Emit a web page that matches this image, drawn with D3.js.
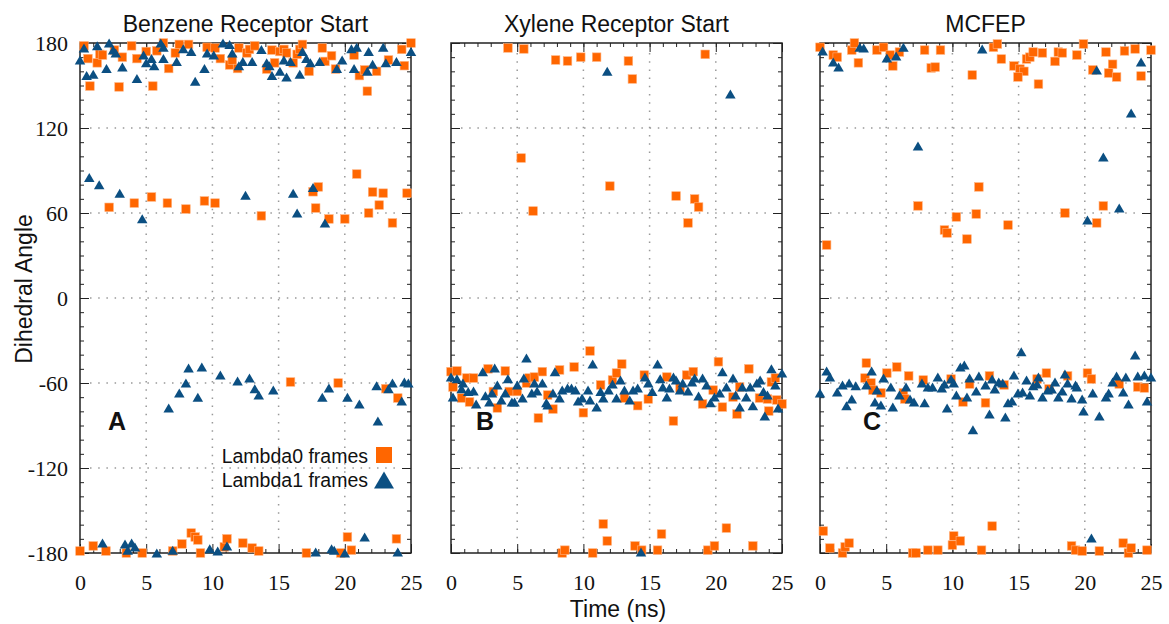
<!DOCTYPE html>
<html>
<head>
<meta charset="utf-8">
<script src="https://cdn.jsdelivr.net/npm/d3@7"></script>
<style>
  body { margin: 0; background: #fff; }
  svg text { font-family: "Liberation Sans", Arial, sans-serif; fill: #111; }
  .tick text { font-family: "Liberation Serif", "Times New Roman", serif; font-size: 22px; fill: #111; }
</style>
</head>
<body>
<svg id="chart" width="1169" height="624"></svg>
<script>
// ---- data (time in ns, dihedral angle in degrees) ----
var titles = ["Benzene Receptor Start", "Xylene Receptor Start", "MCFEP"];
var letters = ["A", "B", "C"];
var xTicks = [0, 5, 10, 15, 20, 25];
var yTicks = [-180, -120, -60, 0, 60, 120, 180];
var legendLabels = ["Lambda0 frames", "Lambda1 frames"];

var benzeneL0 = [
  [0.3,178],[0.6,169],[0.75,149.6],[1.3,166],[1.5,172],[1.7,171.5],[2.6,175],[2.95,149],[3.2,170],[3.9,178],
  [4.3,169],[5.0,174],[5.5,149.6],[5.8,174.5],[6.3,180],[6.7,162],[7.2,173],[7.5,179],[8.2,179],[9.6,177],
  [10.2,176.5],[10.6,169],[11.3,164.5],[11.5,168],[11.9,162],[12.0,176.5],[12.6,173],[12.8,175.5],[13.2,178],
  [14.1,161.6],[14.5,175],[14.7,166],[15.1,174],[15.4,175.5],[15.6,173],[16.1,166],[16.4,172],[16.6,175.5],
  [16.8,179],[17.3,160],[18.3,176.5],[18.5,167],[19.0,171],[19.3,161.6],[20.7,171.5],[21.1,157],[21.5,161],
  [21.7,146],[22.4,160],[23.3,168],[24.3,175.5],[24.5,164],[25,180],
  [2.2,64],[4.1,67],[5.4,71.3],[6.6,67],[8.0,62.8],[9.4,68.5],[10.2,67],[13.7,58],[17.6,75],[18.0,78.4],
  [17.8,63.5],[18.8,55.8],[20.0,55.8],[20.9,87.5],[21.8,60],[22.1,74.8],[22.6,65.6],[22.9,74],[23.6,53],[24.7,74],
  [15.9,-59.3],[19.5,-60],[23.1,-64],[24.0,-70.6],
  [0,-178.6],[1.0,-175],[1.96,-178.6],[3.5,-180],[4.7,-180],[7.0,-178.6],[7.7,-173.6],[8.4,-165.9],[8.7,-168.7],
  [8.9,-170.8],[9.1,-180],[10.9,-175.7],[11.1,-170],[12.3,-173],[13.0,-176.5],[13.5,-178.6],[17.1,-180],
  [19.7,-180],[20.2,-168.7],[20.5,-178],[23.9,-170]
];
var benzeneL1 = [
  [0,168],[0.3,176.5],[0.5,157],[1.0,158],[1.3,178],[2.0,162],[2.2,180],[2.5,175],[2.7,173],[3.2,163],
  [4.3,155],[4.8,171.5],[5.0,166],[5.4,169],[5.6,164],[6.1,180],[6.3,177],[6.3,169],[7.3,167],[7.8,176],
  [8.4,174],[8.7,153],[9.4,162],[9.6,173],[10.1,171.5],[10.8,180],[11.3,179],[11.5,173],[12.0,164],[12.3,167],
  [13.0,167],[13.7,175.5],[14.1,166],[14.3,164],[14.5,157],[15.1,160],[15.4,168],[15.6,156],[15.9,167],
  [16.6,158],[16.8,174],[17.1,169],[17.4,166],[18.1,167],[19.4,162],[19.8,168],[20.5,176],[20.9,177],
  [20.7,162],[21.7,160],[21.8,174],[22.1,165],[22.9,177],[23.1,166],[23.9,167],[25,174],
  [0.7,85],[1.45,80],[3.0,74],[4.7,56],[12.5,72.5],[16.1,74],[16.4,60],[17.6,78],[18.5,53],
  [6.7,-77.6],[7.5,-67],[8.0,-60],[8.2,-49.4],[8.9,-70],[9.2,-48.7],[10.6,-54.4],[11.9,-58.6],[12.8,-56.5],
  [13.2,-64],[13.5,-68.5],[14.6,-65],[18.3,-70],[18.8,-63.5],[20.2,-70],[21.1,-74.8],[22.4,-62],[22.5,-86.8],
  [23.3,-64],[23.6,-60],[24.3,-72.7],[24.5,-59.3],[24.8,-60],
  [1.7,-173],[3.4,-173.6],[3.6,-178],[3.9,-173],[4.15,-175.7],[5.8,-180],[7.0,-178],[9.8,-177],[10.4,-178.6],
  [11.1,-175],[17.8,-179.3],[19.0,-177],[19.2,-178],[20.0,-180],[21.5,-168.7],[24.0,-179.3]
];

var xyleneL0 = [
  [4.3,176.5],[5.5,175.8],[7.9,168],[8.8,167.3],[9.8,170],[11.0,170],[13.4,167.3],[13.7,154.6],[19.2,172],
  [5.3,98.8],[12.0,79],[17.0,72],[18.4,69.9],[18.7,64.2],[17.9,53],[6.2,61.4],
  [0,-52],[0.45,-51.5],[0.15,-62.8],[0.8,-70.6],[1.2,-56.5],[1.4,-73.4],[1.7,-56.5],[2.8,-50],[3.2,-66],
  [3.5,-77.6],[4.1,-51.5],[4.4,-66],[5.0,-66],[5.7,-60],[5.9,-56.5],[6.3,-55.8],[6.6,-84.7],[6.9,-52],
  [7.3,-68.5],[7.7,-78.4],[8.2,-50.8],[9.3,-48.7],[10.0,-81],[10.5,-37.4],[11.3,-61.4],[12.2,-57.9],[12.5,-53],
  [12.9,-46.6],[13.1,-70.6],[14.1,-76],[14.6,-54.4],[14.9,-71.3],[16.3,-55.8],[16.8,-86.8],[17.3,-63.5],
  [17.8,-54.4],[18.3,-52],[19.0,-74.8],[19.8,-65],[20.2,-45],[20.5,-77],[21.3,-69.9],[21.6,-81.9],[21.8,-62.8],
  [22.5,-50],[23.3,-70.6],[23.9,-71.3],[24.0,-79.8],[24.2,-59.3],[24.5,-56.5],[24.6,-72],[25.0,-74.8],
  [11.5,-159.5],[11.8,-171.5],[8.4,-180],[8.6,-178],[10.7,-180],[13.9,-175],[14.4,-178],[15.6,-178],
  [15.9,-166.6],[19.4,-178],[19.9,-175],[20.8,-162.4],[22.8,-175]
];
var xyleneL1 = [
  [11.8,160],[21.1,144],
  [0,-55.8],[0.15,-69.9],[0.45,-57],[0.8,-64],[0.9,-60],[1.3,-66],[1.7,-65.6],[1.9,-74.8],[2.4,-52],[2.6,-69],
  [2.9,-73.4],[3.1,-67],[3.3,-49.4],[3.5,-61.4],[3.8,-72],[4.1,-67],[4.3,-57],[4.6,-73.4],[4.8,-73.4],[5.0,-61.4],
  [5.4,-70.6],[5.5,-56.5],[5.7,-42.4],[6.1,-67],[6.3,-60],[6.5,-65.6],[6.9,-60],[7.2,-74],[7.3,-75.5],[7.7,-67],
  [7.85,-52],[8.2,-70.6],[8.4,-65],[8.8,-63.5],[9.1,-63.5],[9.4,-65],[9.6,-72.7],[9.9,-70.6],[10.35,-65],
  [10.5,-72],[10.7,-46.6],[11.0,-77],[11.3,-66],[11.5,-70.6],[11.9,-65],[12.2,-60.7],[12.5,-70.6],[12.8,-57.9],
  [13.1,-65],[13.5,-72],[13.75,-65],[14.1,-63.5],[14.65,-55.8],[14.9,-60],[15.2,-66],[15.6,-46.6],[15.8,-57],
  [16.0,-62.8],[16.3,-69.9],[16.5,-63.5],[16.8,-55.8],[17.0,-57.9],[17.3,-65],[17.5,-60],[17.9,-65.6],
  [18.2,-59.3],[18.4,-56.5],[18.7,-69.2],[19.0,-56.5],[19.3,-61.4],[19.6,-74],[19.9,-69.9],[20.3,-67],[20.5,-52],
  [20.8,-62.8],[21.3,-56.5],[21.5,-68.5],[21.8,-77],[22.0,-62.8],[22.3,-69.9],[22.6,-62.8],[22.8,-76],[23.1,-60],
  [23.35,-57.9],[23.6,-66],[23.7,-83.3],[23.9,-68.5],[24.2,-50],[24.5,-61.4],[24.7,-77.6],[25.0,-53],
  [14.35,-179.3]
];

var mcfepL0 = [
  [0,177],[1.0,171.5],[1.3,170],[2.4,175],[2.6,180],[2.9,166],[4.3,175],[4.8,177],[5.3,171.5],[5.5,163.8],
  [6.0,173.6],[7.9,175],[8.4,162.4],[8.7,163],[9.1,175],[11.5,157.4],[13.1,177],[13.4,179.3],[13.7,168.7],
  [14.65,163.8],[15.1,161.6],[15.4,160],[14.95,156],[15.6,168.7],[15.85,170],[16.1,173.6],[16.5,151],[16.8,173],
  [17.75,167],[18.0,173.6],[18.3,173],[19.4,171.5],[19.9,179.3],[20.6,161],[21.6,173.6],[21.8,158.8],[22.1,165],
  [22.4,156],[23.0,174.4],[23.8,175.8],[24.25,156.7],[25,175],
  [12.0,78.4],[0.5,37.4],[7.4,65],[9.4,48],[9.6,45.9],[10.3,57.2],[11.1,41.6],[11.8,59.3],[14.2,51.5],[18.5,60],
  [20.9,53],[21.4,65],
  [3.5,-45.9],[3.4,-56.5],[3.85,-60],[4.0,-65],[4.6,-67],[5.05,-53],[5.8,-48.7],[6.3,-67],[6.4,-71.3],[6.7,-55],
  [7.8,-57.9],[9.9,-57.2],[10.8,-73.4],[11.3,-60.7],[12.5,-74],[12.8,-55],[13.9,-61.4],[16.4,-57.2],[17.1,-53],
  [17.3,-64.2],[18.7,-55],[20.2,-53],[20.5,-57.2],[22.6,-60.7],[24.0,-62.8],[24.5,-63.5],
  [0.25,-164.5],[0.75,-176.5],[1.7,-180],[1.9,-175.7],[2.2,-173],[7.0,-180],[7.25,-180],[8.15,-178],[8.9,-178],
  [10.0,-174.4],[10.1,-168],[10.6,-171.5],[12.2,-178],[13.0,-161],[19.0,-175],[19.3,-178],[19.8,-178.6],
  [21.1,-178.6],[22.9,-173],[23.3,-180],[23.5,-176.5],[24.7,-178]
];
var mcfepL1 = [
  [0.2,174.4],[1.0,166.6],[1.4,163],[3.0,177],[3.3,176.5],[5.05,169.4],[5.75,170.8],[6.3,177],[12.25,175.8],
  [20.9,161],[24.25,166.6],[23.5,130.6],[7.4,107.3],[21.4,99.5],[20.2,55],[22.6,63.5],
  [0,-67],[0.5,-51.5],[0.75,-55.8],[1.3,-66.4],[1.7,-61.4],[2.0,-76],[2.2,-60],[2.4,-71.3],[2.7,-62],[3.5,-61.4],
  [3.9,-51.5],[4.15,-73.4],[4.3,-65],[4.6,-75.5],[4.8,-56.5],[5.35,-62.8],[5.5,-77],[6.0,-68.5],[6.5,-62.8],
  [6.8,-71.3],[7.1,-73.4],[7.7,-60],[7.9,-74],[8.15,-62.8],[8.5,-62.8],[8.9,-55.8],[9.2,-63.5],[9.4,-60.7],
  [9.6,-77.6],[9.9,-57.2],[10.1,-60],[10.3,-68.5],[10.6,-48.7],[10.9,-47.3],[11.1,-69.9],[11.3,-56.5],[11.8,-65.6],
  [12.0,-55],[12.5,-61.4],[12.8,-81.9],[13.0,-57.2],[13.2,-64.2],[13.5,-59.3],[13.8,-60],[14.0,-84],[14.2,-74],
  [14.5,-72.7],[14.65,-54.4],[14.95,-67],[15.2,-38],[15.3,-66.4],[15.6,-57.9],[15.85,-68.5],[16.1,-62],
  [16.4,-60.7],[16.5,-55.8],[16.8,-69.9],[17.2,-65],[17.5,-64.2],[17.75,-59.3],[18.0,-69.9],[18.3,-65.6],
  [18.5,-53.6],[18.7,-60],[19.0,-70.6],[19.3,-61.4],[19.4,-62.8],[19.8,-71.3],[19.9,-79.8],[20.6,-67],[21.1,-83.3],
  [21.6,-69.9],[21.8,-67],[22.1,-59.3],[22.4,-55],[22.9,-66.4],[23.1,-55.8],[23.3,-74.8],[23.8,-40.2],[24.0,-55],
  [24.5,-54.4],[24.7,-72.7],[25,-55.8],[11.55,-93],
  [20.5,-169.4]
];

// ---- layout ----
var svg = d3.select("#chart");
var plotTop = 43, plotBottom = 553, plotW = 331;
var panelLefts = [80, 451, 820];
var orange = "#ff6600", blue = "#0b4f82";

var trianglePath = function(w, h) {
  return "M0," + (-h / 2) + "L" + (w / 2) + "," + (h / 2) + "L" + (-w / 2) + "," + (h / 2) + "Z";
}

var drawPanel = function(i, l0, l1) {
  var left = panelLefts[i];
  var x = d3.scaleLinear().domain([0, 25]).range([left, left + plotW]);
  var y = d3.scaleLinear().domain([-180, 180]).range([plotBottom, plotTop]);
  var g = svg.append("g");

  // dotted grid
  g.selectAll(".vgrid").data(xTicks.slice(1, -1)).enter().append("line")
    .attr("x1", function(d) { return x(d); }).attr("x2", function(d) { return x(d); })
    .attr("y1", plotTop + 10).attr("y2", plotBottom - 10)
    .attr("stroke", "#999").attr("stroke-width", 1.5).attr("stroke-dasharray", "1.5,6.7");
  g.selectAll(".hgrid").data(yTicks.slice(1, -1)).enter().append("line")
    .attr("y1", function(d) { return y(d); }).attr("y2", function(d) { return y(d); })
    .attr("x1", left + 10).attr("x2", left + plotW - 10)
    .attr("stroke", "#999").attr("stroke-width", 1.5).attr("stroke-dasharray", "1.5,6.7");

  // major and minor ticks on all four sides
  var noDomain = function(sel) { sel.select(".domain").remove(); sel.selectAll(".tick line").attr("stroke", "#222"); };
  var minorX = d3.range(0, 26, 1), minorY = d3.range(-180, 181, 10);

  g.append("g").attr("transform", "translate(0," + plotBottom + ")")
    .call(d3.axisBottom(x).tickValues(xTicks).tickSizeInner(-9).tickSizeOuter(0).tickPadding(21)
      .tickFormat(function(d) { return String(d); }))
    .call(noDomain);
  g.append("g").attr("transform", "translate(0," + plotBottom + ")")
    .call(d3.axisBottom(x).tickValues(minorX).tickSize(-4).tickFormat("")).call(noDomain);
  g.append("g").attr("transform", "translate(0," + plotTop + ")")
    .call(d3.axisTop(x).tickValues(xTicks).tickSize(-9).tickFormat("")).call(noDomain);
  g.append("g").attr("transform", "translate(0," + plotTop + ")")
    .call(d3.axisTop(x).tickValues(minorX).tickSize(-4).tickFormat("")).call(noDomain);

  var yAxis = d3.axisLeft(y).tickValues(yTicks).tickSizeInner(-9).tickSizeOuter(0).tickPadding(12)
    .tickFormat(i === 0 ? function(d) { return String(d); } : "");
  g.append("g").attr("transform", "translate(" + left + ",0)").call(yAxis).call(noDomain);
  g.append("g").attr("transform", "translate(" + left + ",0)")
    .call(d3.axisLeft(y).tickValues(minorY).tickSize(-4).tickFormat("")).call(noDomain);
  g.append("g").attr("transform", "translate(" + (left + plotW) + ",0)")
    .call(d3.axisRight(y).tickValues(yTicks).tickSize(-9).tickFormat("")).call(noDomain);
  g.append("g").attr("transform", "translate(" + (left + plotW) + ",0)")
    .call(d3.axisRight(y).tickValues(minorY).tickSize(-4).tickFormat("")).call(noDomain);

  // frame
  g.append("rect").attr("x", left).attr("y", plotTop).attr("width", plotW).attr("height", plotBottom - plotTop)
    .attr("fill", "none").attr("stroke", "#222").attr("stroke-width", 1.5);

  // title
  g.append("text").attr("x", left + plotW / 2).attr("y", 32).attr("text-anchor", "middle")
    .style("font-size", "23px").text(titles[i]);

  // panel letter
  g.append("text").attr("x", [117, 485, 872][i]).attr("y", 430).attr("text-anchor", "middle")
    .style("font-size", "25px").style("font-weight", "bold").text(letters[i]);

  // points: Lambda0 squares, Lambda1 triangles on top
  g.selectAll(".l0").data(l0).enter().append("rect")
    .attr("x", function(d) { return x(d[0]) - 4.3; })
    .attr("y", function(d) { return y(d[1]) - 4.3; })
    .attr("width", 8.6).attr("height", 8.6)
    .attr("fill", orange).attr("stroke", "#ffb27f").attr("stroke-width", 0.6);
  g.selectAll(".l1").data(l1).enter().append("path")
    .attr("d", trianglePath(10.5, 9))
    .attr("transform", function(d) { return "translate(" + x(d[0]) + "," + y(d[1]) + ")"; })
    .attr("fill", blue);
}

drawPanel(0, benzeneL0, benzeneL1);
drawPanel(1, xyleneL0, xyleneL1);
drawPanel(2, mcfepL0, mcfepL1);

// axis titles
svg.append("text").attr("transform", "translate(32,289) rotate(-90)").attr("text-anchor", "middle")
  .style("font-size", "23px").text("Dihedral Angle");
svg.append("text").attr("x", 618).attr("y", 617).attr("text-anchor", "middle")
  .style("font-size", "23px").text("Time (ns)");

// legend in panel A
var legend = svg.append("g");
legend.selectAll("text").data(legendLabels).enter().append("text")
  .attr("x", 368).attr("y", function(d, i) { return 463 + i * 24; })
  .attr("text-anchor", "end").style("font-size", "19.5px").text(function(d) { return d; });
legend.append("rect").attr("x", 376).attr("y", 447).attr("width", 16).attr("height", 16).attr("fill", orange);
legend.append("path").attr("d", trianglePath(20, 17)).attr("transform", "translate(384,480)").attr("fill", blue);
</script>
</body>
</html>
